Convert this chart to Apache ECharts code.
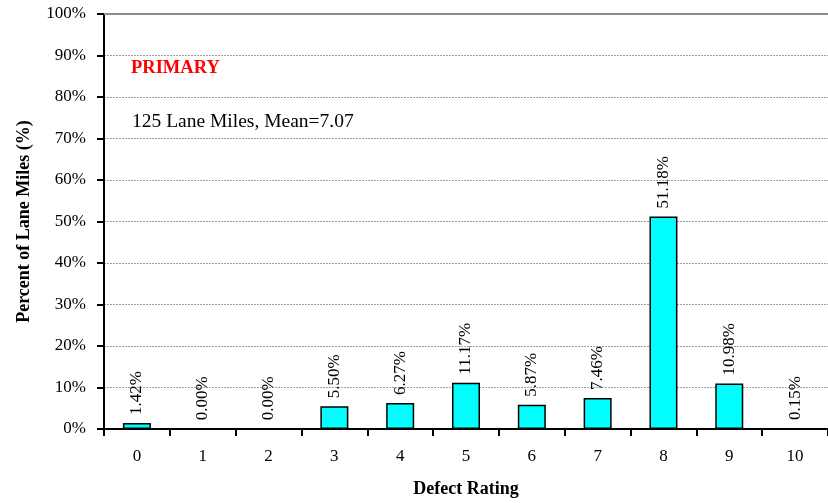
<!DOCTYPE html>
<html>
<head>
<meta charset="utf-8">
<title>Defect Rating - Primary</title>
<script src="https://cdn.jsdelivr.net/npm/echarts@6/dist/echarts.min.js"></script>
<style>
    html, body { margin: 0; padding: 0; background: #fff; }
    #chart { width: 828px; height: 503px; }
</style>
</head>
<body>
<div id="chart"></div>
<script>
// data
const ratings = ['0', '1', '2', '3', '4', '5', '6', '7', '8', '9', '10'];
const percents = [1.42, 0.00, 0.00, 5.50, 6.27, 11.17, 5.87, 7.46, 51.18, 10.98, 0.15];
const yTicks = [0, 10, 20, 30, 40, 50, 60, 70, 80, 90, 100];

const serif = "'Liberation Serif', 'Times New Roman', serif";

const chart = echarts.init(document.getElementById('chart'));
const option = {
    backgroundColor: '#fff',
    animation: false,
    grid: { left: 104, right: 0, top: 14, bottom: 73 },
    graphic: [
        {
            type: 'text', left: 131, top: 59,
            style: { text: 'PRIMARY', fill: '#ff0000', font: 'bold 18.5px ' + serif }
        },
        {
            type: 'text', left: 132, top: 112,
            style: { text: '125 Lane Miles, Mean=7.07', fill: '#000', font: '19.5px ' + serif }
        }
    ],
    xAxis: [
        {
            type: 'category',
            data: ratings,
            name: 'Defect Rating',
            nameLocation: 'middle',
            nameGap: 51,
            nameTextStyle: { fontFamily: serif, fontSize: 18, fontWeight: 'bold', color: '#000' },
            axisLine: { lineStyle: { color: '#000', width: 2 } },
            axisTick: { show: true, alignWithLabel: false, length: 7, lineStyle: { color: '#000', width: 2 } },
            axisLabel: { fontFamily: serif, fontSize: 17, color: '#000', margin: 19 },
            splitLine: { show: false }
        },
        {
            // top border of the plot
            type: 'category',
            data: ratings,
            position: 'top',
            axisLine: { lineStyle: { color: '#8c8c8c', width: 2 } },
            axisTick: { show: false },
            axisLabel: { show: false }
        }
    ],
    yAxis: {
        type: 'value',
        min: 0,
        max: 100,
        interval: 10,
        name: 'Percent of Lane Miles (%)',
        nameLocation: 'middle',
        nameGap: 71,
        nameTextStyle: { fontFamily: serif, fontSize: 18, fontWeight: 'bold', color: '#000' },
        axisLine: { show: true, lineStyle: { color: '#000', width: 2 } },
        axisTick: { show: true, length: 7, lineStyle: { color: '#000', width: 2 } },
        axisLabel: {
            fontFamily: serif, fontSize: 17, color: '#000', margin: 18,
            formatter: v => yTicks.includes(v) ? v + '%' : ''
        },
        splitLine: { show: true, lineStyle: { color: '#a0a0a0', width: 1, type: [2, 1] } }
    },
    series: [{
        type: 'bar',
        data: percents,
        barWidth: 28,
        itemStyle: { color: '#00ffff', borderColor: '#000', borderWidth: 1.5 },
        label: {
            show: true,
            position: 'top',
            rotate: 90,
            align: 'left',
            verticalAlign: 'middle',
            distance: 8,
            fontFamily: serif,
            fontSize: 17,
            color: '#000',
            formatter: p => p.value.toFixed(2) + '%'
        }
    }]
};
chart.setOption(option);
</script>
</body>
</html>
